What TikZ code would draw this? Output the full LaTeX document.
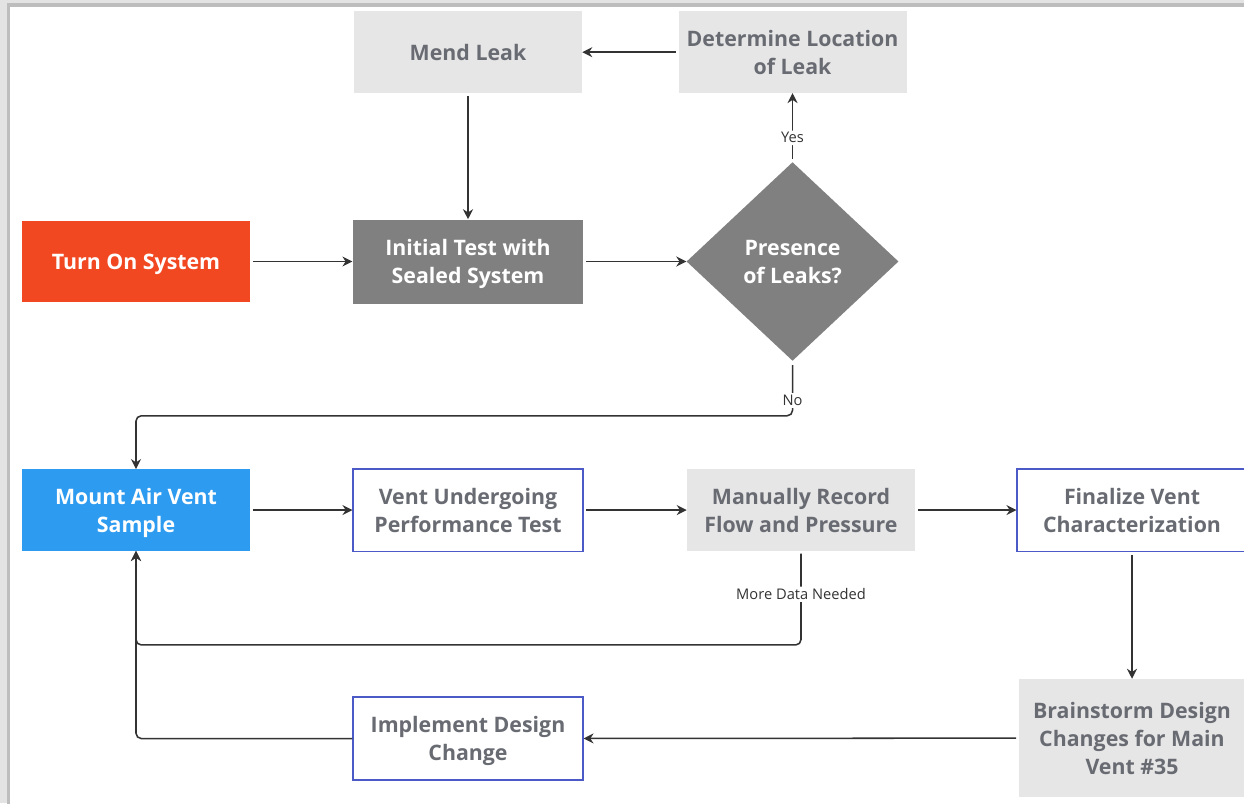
\documentclass[tikz,border=0pt]{standalone}
\usepackage{fontspec}
\setmainfont{Open Sans}
\usetikzlibrary{shapes.geometric,arrows.meta}

\definecolor{leakred}{HTML}{F24822}
\definecolor{skyblue}{HTML}{2D9BF0}
\definecolor{darkbox}{HTML}{808080}
\definecolor{lightbox}{HTML}{E6E6E6}
\definecolor{boxtext}{HTML}{696B73}
\definecolor{boxedge}{HTML}{4B5AC6}
\definecolor{linecol}{HTML}{333333}
\definecolor{framebg}{HTML}{E3E3E3}
\definecolor{frameline}{HTML}{BDBDBD}

\begin{document}
\begin{tikzpicture}[
    node distance=249pt,
    box/.style={rectangle, fill=lightbox, text=boxtext, align=center, inner sep=0pt, text depth=0pt,
        font=\bfseries\fontsize{16}{21}\selectfont, minimum width=171pt, minimum height=61pt},
    outline/.style={box, fill=white, draw=boxedge, line width=1.3pt, minimum width=172pt, minimum height=62pt},
    decision/.style={diamond, fill=darkbox, text=white, align=center, inner sep=0pt, text depth=0pt,
        font=\bfseries\fontsize{16}{21}\selectfont, minimum width=159pt, minimum height=149pt},
    arrow/.style={-{Stealth[length=7.5pt, width=7.5pt]}, line width=1.15pt, draw=linecol, rounded corners=4pt},
    tag/.style={fill=white, text=linecol, font=\fontsize{11}{13}\selectfont, inner sep=1.5pt}
]
    % page frame
    \useasboundingbox (-102pt,196.125pt) rectangle (831pt,-406.125pt);
    \fill[framebg] (-102pt,196.125pt) rectangle (831pt,-406.125pt);
    \draw[frameline, line width=2.6pt, fill=white] (-95.5pt,192.4pt) rectangle (845pt,-420pt);

    % leak check
    \node[box, fill=leakred, text=white] (turnon) {Turn On System};
    \node[box, fill=darkbox, text=white, minimum width=173pt, minimum height=63pt, right of=turnon] (inittest) {Initial Test with\\Sealed System};
    \node[decision, right of=inittest, node distance=243.4pt] (leaks) {Presence\\of Leaks?};
    \node[box, above of=leaks, node distance=157pt] (locate) {Determine Location\\of Leak};
    \node[box, above of=inittest, node distance=157pt] (mend) {Mend Leak};

    % vent testing
    \node[box, fill=skyblue, text=white, below of=turnon, node distance=186.4pt] (mount) {Mount Air Vent\\Sample};
    \node[outline, right of=mount] (perftest) {Vent Undergoing\\Performance Test};
    \node[box, right of=perftest, node distance=249.75pt] (record) {Manually Record\\Flow and Pressure};
    \node[outline, right of=record, node distance=248.25pt] (finalize) {Finalize Vent\\Characterization};
    \node[box, minimum width=169.5pt, minimum height=88.5pt, below of=finalize, node distance=171pt] (brainstorm) {Brainstorm Design\\Changes for Main\\Vent \#35};
    \node[outline, below of=perftest, node distance=171.4pt] (implement) {Implement Design\\Change};

    \draw[arrow, shorten <=2pt] (turnon) -- (inittest);
    \draw[arrow, shorten <=2pt] (inittest) -- (leaks);
    \draw[arrow, shorten <=2pt] (leaks.north) -- node[tag, pos=.35] {Yes} (locate.south);
    \draw[arrow, shorten <=2pt] (locate) -- (mend);
    \draw[arrow, shorten <=2pt] (mend) -- (inittest);
    \draw[arrow, shorten <=3pt] (leaks.south) -- node[tag, pos=.72] {No} ++(0,-41pt) -| (mount.north);

    \draw[arrow, shorten <=2pt] (mount) -- (perftest);
    \draw[arrow, shorten <=2pt] (perftest) -- (record);
    \draw[arrow, shorten <=2pt] (record) -- (finalize);
    \draw[arrow, shorten <=2pt] (record.south) -- node[tag, pos=.46] {More Data Needed} ++(0,-70.5pt) -| (mount.south);
    \draw[arrow, shorten <=2pt] (finalize) -- (brainstorm);
    \draw[arrow, shorten <=2pt] (brainstorm) -- (implement);
    \draw[arrow] (implement.west) -| (mount.south);
\end{tikzpicture}
\end{document}
